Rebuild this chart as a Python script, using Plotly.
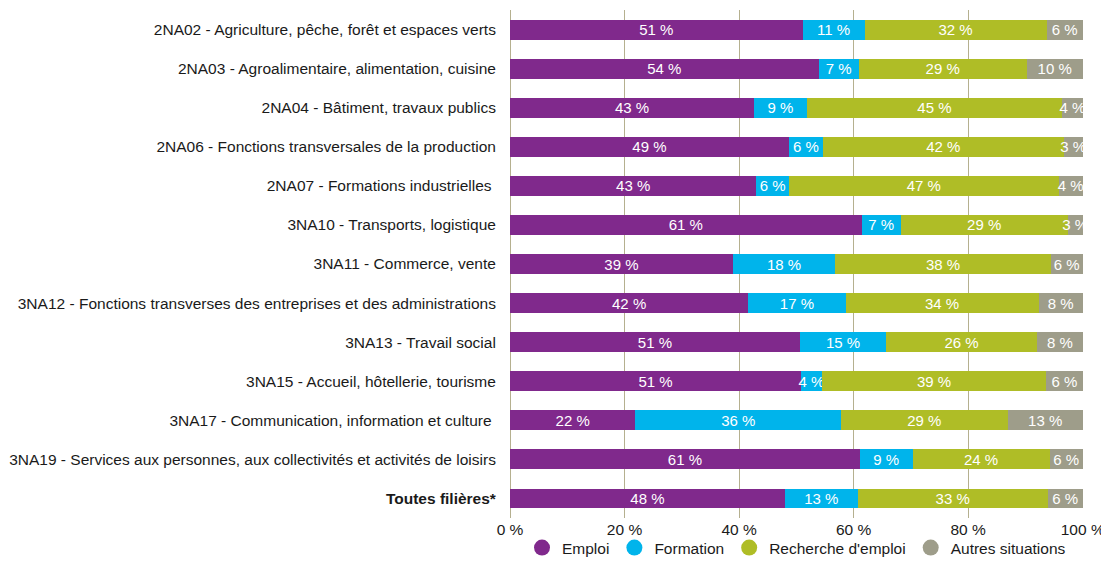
import plotly.graph_objects as go

categories = [
    "2NA02 - Agriculture, pêche, forêt et espaces verts",
    "2NA03 - Agroalimentaire, alimentation, cuisine",
    "2NA04 - Bâtiment, travaux publics",
    "2NA06 - Fonctions transversales de la production",
    "2NA07 - Formations industrielles ",
    "3NA10 - Transports, logistique",
    "3NA11 - Commerce, vente",
    "3NA12 - Fonctions transverses des entreprises et des administrations",
    "3NA13 - Travail social",
    "3NA15 - Accueil, hôtellerie, tourisme",
    "3NA17 - Communication, information et culture ",
    "3NA19 - Services aux personnes, aux collectivités et activités de loisirs",
    "<b>Toutes filières*</b>",
]

emploi = [51.1, 53.9, 42.6, 48.7, 43.0, 61.4, 38.9, 41.6, 50.6, 50.8, 21.9, 61.1, 48.0]
formation = [10.8, 7.0, 9.2, 5.9, 5.7, 6.8, 17.9, 17.0, 15.1, 3.7, 35.9, 9.2, 12.7]
recherche = [31.8, 29.3, 44.6, 42.1, 47.1, 29.2, 37.6, 33.7, 26.3, 39.1, 29.1, 23.9, 33.2]
autres = [6.3, 9.8, 3.6, 3.3, 4.2, 2.6, 5.6, 7.7, 8.0, 6.4, 13.1, 5.8, 6.1]

x_ticks = [0, 20, 40, 60, 80, 100]
x_ticktext = ["0 %", "20 %", "40 %", "60 %", "80 %", "100 %"]

series = [
    ("Emploi", emploi, "#80298C"),
    ("Formation", formation, "#00B4EB"),
    ("Recherche d'emploi", recherche, "#AFBD26"),
    ("Autres situations", autres, "#9E9D8A"),
]

FONT = "Liberation Sans, Arial, sans-serif"

fig = go.Figure()
for name, vals, color in series:
    fig.add_trace(go.Bar(
        x=vals, y=categories, orientation="h", name=name,
        marker=dict(color=color, line=dict(width=0)),
        texttemplate="%{x:.0f} %", textposition="inside",
        insidetextanchor="middle", textangle=0,
        textfont=dict(color="white", size=15, family=FONT),
        showlegend=False, hoverinfo="skip",
    ))

# circle legend markers, drawn on hidden axes so they stay off the chart
for name, vals, color in series:
    fig.add_trace(go.Scatter(
        x=[0], y=[0], mode="markers", name=name, xaxis="x2", yaxis="y2",
        marker=dict(color=color, size=16, symbol="circle"),
        hoverinfo="skip",
    ))

# page body adds an 8px margin, so the figure is kept small enough
# that the page never scrolls
fig.update_layout(
    barmode="stack",
    bargap=0.49,
    width=1101, height=550,
    margin=dict(l=502, r=26, t=2, b=40, autoexpand=False),
    plot_bgcolor="white", paper_bgcolor="white",
    font=dict(family=FONT, size=15.5, color="#1a1a1a"),
    uniformtext=dict(minsize=15, mode="show"),
    legend=dict(orientation="h", x=0.5, xanchor="center",
                y=-0.059, yanchor="middle", font=dict(size=15.5),
                bgcolor="rgba(0,0,0,0)", traceorder="normal"),
    xaxis=dict(
        range=[0, 100.05], tickvals=x_ticks, ticktext=x_ticktext,
        showgrid=True, gridcolor="#B5B08F", gridwidth=1,
        zeroline=True, zerolinecolor="#B5B08F", zerolinewidth=1,
        showline=False, ticks="", tickfont=dict(size=15.5), automargin=False,
        ticklabeloverflow="allow",
    ),
    yaxis=dict(
        autorange="reversed", showgrid=False, ticks="outside",
        ticklen=10, tickcolor="rgba(0,0,0,0)", tickfont=dict(size=15.5),
        automargin=False,
    ),
    xaxis2=dict(overlaying="x", range=[1, 2], visible=False),
    yaxis2=dict(overlaying="y", range=[1, 2], visible=False),
)

fig.write_html("out.html")
